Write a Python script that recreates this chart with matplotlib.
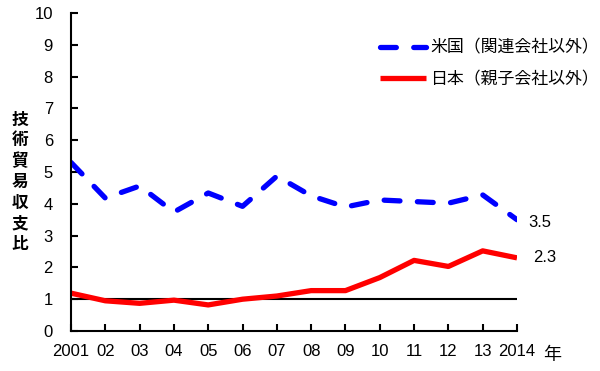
import matplotlib
matplotlib.use("Agg")
import matplotlib.pyplot as plt

plt.rcParams['font.family'] = ['Liberation Sans', 'Noto Sans CJK JP', 'DejaVu Sans']

# données
annees = list(range(2001, 2015))
etiquettes_x = ["2001", "02", "03", "04", "05", "06", "07", "08", "09",
                "10", "11", "12", "13", "2014"]
us = [5.3, 4.18, 4.56, 3.74, 4.34, 3.92, 4.87, 4.25, 3.9, 4.12, 4.07, 4.02, 4.28, 3.5]
japon = [1.19, 0.95, 0.87, 0.97, 0.82, 1.0, 1.1, 1.27, 1.27, 1.68, 2.22, 2.03, 2.52, 2.3]
nom_us = "米国（関連会社以外）"
nom_japon = "日本（親子会社以外）"
titre_y = "技術貿易収支比"

fig = plt.figure(figsize=(6, 3.71), dpi=100)
ax = fig.add_axes([71/600, 40/371, 446/600, 318/371])

ax.plot(annees, us, color="#0000ff", lw=3.8, dashes=(3, 3.3),
        dash_capstyle="round", label=nom_us)
ax.plot(annees, japon, color="#ff0000", lw=3.8, solid_capstyle="butt",
        label=nom_japon)
ax.plot([annees[0], annees[-1]], [1, 1], color="black", lw=1.5, zorder=1)

ax.set_xlim(annees[0], annees[-1])
ax.set_ylim(0, 10)
ax.set_xticks(annees)
ax.set_xticklabels(etiquettes_x)
ax.set_yticks(range(0, 11))
ax.tick_params(axis="both", direction="in", length=5, width=1.5,
               labelsize=12, colors="black")
ax.tick_params(axis="x", pad=9)
ax.tick_params(axis="y", pad=13)
for s in ["top", "right"]:
    ax.spines[s].set_visible(False)
for s in ["left", "bottom"]:
    ax.spines[s].set_linewidth(1.5)

ax.annotate("3.5", xy=(annees[-1], us[-1]), xytext=(8, -2),
            textcoords="offset points", ha="left", va="center", fontsize=12,
            annotation_clip=False)
ax.annotate("2.3", xy=(annees[-1], japon[-1]), xytext=(11.5, 0),
            textcoords="offset points", ha="left", va="center", fontsize=12,
            annotation_clip=False)

fig.text(543/600, 1 - 355/371, "年", fontsize=13, ha="left", va="center",
         family=['Noto Sans CJK JP'])
fig.text(20/600, 1 - 182/371, "\n".join(titre_y), fontsize=12, fontweight="bold",
         ha="center", va="center", linespacing=1.2, family=['Noto Sans CJK JP'])

leg = ax.legend(loc="upper left", bbox_to_anchor=(372/600, 1 - 30/371),
                bbox_transform=fig.transFigure, frameon=False, handlelength=2.7,
                handletextpad=0.25, borderpad=0, labelspacing=0.8,
                prop={"family": ['Noto Sans CJK JP'], "size": 12.2})

fig.savefig("out.png", dpi=100)
